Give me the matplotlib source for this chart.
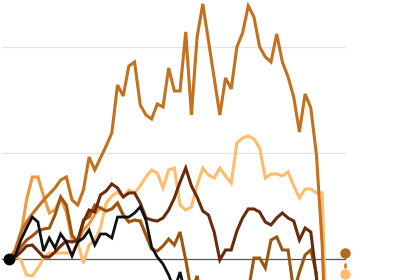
import matplotlib
matplotlib.use("Agg")
import matplotlib.pyplot as plt
import numpy as np

# values relative to the start (0 = baseline), one point per period
dark_orange = [0, 0.085, 0.255, 0.349, 0.425, 0.491, 0.557, 0.613, 0.670, 0.745, 0.774,
               0.557, 0.509, 0.651, 0.962, 0.840, 0.953, 1.066, 1.189, 1.642, 1.538,
               1.821, 1.858, 1.453, 1.358, 1.321, 1.462, 1.434, 1.802, 1.585, 1.585,
               2.142, 1.358, 2.094, 2.406, 2.057, 1.708, 1.358, 1.708, 1.604, 2.000,
               2.132, 2.387, 2.283, 2.000, 1.906, 1.858, 2.123, 1.858, 1.717, 1.528,
               1.198, 1.557, 1.425, 0.981, 0.132, -1.3]
light_orange = [0, 0.028, -0.009, -0.151, -0.160, -0.085, 0.009, 0.057, 0.057, 0.057, 0.057,
                0.057, 0.151, -0.038, 0.132, 0.179, 0.292, 0.528, 0.594, 0.632, 0.585,
                0.651, 0.623, 0.689, 0.774, 0.840, 0.811, 0.670, 0.840, 0.858, 0.509,
                0.462, 0.491, 0.698, 0.858, 0.792, 0.764, 0.858, 0.783, 0.717, 1.094,
                1.142, 1.160, 1.132, 1.047, 0.764, 0.802, 0.802, 0.783, 0.821, 0.689,
                0.575, 0.660, 0.660, 0.623, 0.623, -1.1]
mid_orange = [0, 0.085, 0.226, 0.557, 0.774, 0.774, 0.594, 0.434, 0.462, 0.575, 0.443,
              0.179, 0.151, 0.274, 0.330, 0.420, 0.481, 0.453, 0.472, 0.528, 0.415,
              0.349, 0.368, 0.358, 0.226, 0.094]
dark_brown = [0, 0.019, 0.066, 0.123, 0.132, 0.075, 0.019, 0.019, 0.066, 0.123, 0.170,
              0.160, 0.179, 0.349, 0.462, 0.443, 0.604, 0.642, 0.708, 0.670, 0.585,
              0.623, 0.623, 0.528, 0.387, 0.368, 0.358, 0.387, 0.462, 0.575, 0.726,
              0.858, 0.689, 0.585, 0.453, 0.415, 0.255, -0.009, 0.085, 0.085, 0.264,
              0.387, 0.472, 0.472, 0.443, 0.349, 0.321, 0.387, 0.434, 0.387, 0.358,
              0.179, 0.292, 0.255, -0.179, -1.3]
mid_brown = [0, 0.047, 0.113, 0.179, 0.217, 0.264, 0.283, 0.292, 0.415, 0.585, 0.509,
             0.226, 0.160, 0.368, 0.396, 0.509, 0.481, 0.453, 0.472, 0.528, 0.415,
             0.349, 0.368, 0.358, 0.226, 0.094, 0.075, 0.123, 0.189, 0.132, 0.255,
             -0.009, -0.311, -0.160, -0.45, -0.55, -0.50, -0.60, -0.55, -0.45, -0.50,
             -0.40, -0.30, 0.009, 0.009, -0.085, 0.179, 0.208, 0.085, 0.085, -0.311,
             -0.123, 0.038, 0.085, -0.14, -1.3]
black = [0, 0.028, 0.179, 0.292, 0.396, 0.349, 0.075, 0.198, 0.104, 0.236, 0.160,
         0.028, 0.160, 0.198, 0.274, 0.132, 0.236, 0.236, 0.198, 0.396, 0.396,
         0.396, 0.434, 0.491, 0.368, 0.113, 0.019, -0.047, -0.151, -0.29, -0.123,
         -0.34, -0.6]

end_values = [0.057, -0.14]
n_periods = 59

series = [
    (mid_orange, "#ec9a3f", 2.2),
    (light_orange, "#ffbc6b", 2.2),
    (dark_orange, "#c4701c", 2.2),
    (mid_brown, "#9c5612", 2.2),
    (dark_brown, "#6b2a0b", 2.2),
    (black, "#111111", 2.0),
]

fig = plt.figure(figsize=(4.2, 2.8), dpi=100)
ax = fig.add_axes([0, 0, 1, 1])
ax.set_xlim(-1.671, 72.21)
ax.set_ylim(-0.198, 2.443)
ax.axis("off")

# grid and baseline
for g in [1, 2]:
    ax.plot([-1.3, n_periods], [g, g], color="#e4e4e4", lw=0.9, zorder=1)
ax.plot([-1.3, n_periods], [0, 0], color="#555555", lw=0.9, zorder=2)

for vals, col, lw in series:
    ax.plot(np.arange(len(vals)), vals, color=col, lw=lw, zorder=3,
            solid_joinstyle="miter", solid_capstyle="butt")

# start marker and end markers
ax.plot([0], [0], "o", color="black", ms=7.5, zorder=5)
ax.plot([n_periods, n_periods], end_values, color="#c87a28", lw=1.8,
        ls=(0, (2, 2)), zorder=4)
ax.plot([n_periods], [end_values[0]], "o", color="#b8681b", ms=6.5, zorder=5)
ax.plot([n_periods], [end_values[1]], "o", color="#ffbc6b", ms=6.5, zorder=5)

fig.savefig("out.png", dpi=100)
